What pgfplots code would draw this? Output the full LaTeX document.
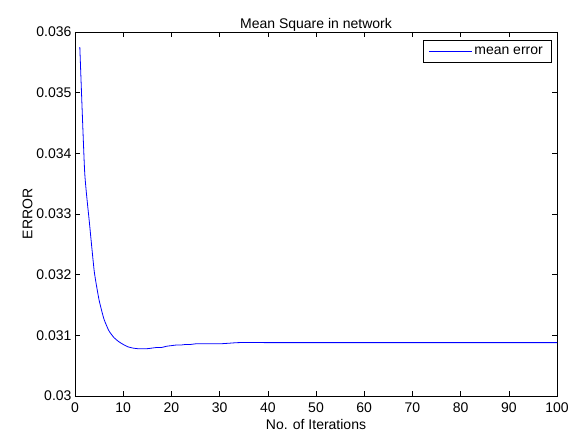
\documentclass[border=0pt]{standalone}
\usepackage{fontspec}
\setmainfont{Liberation Sans}
\usepackage{pgfplots}
\pgfplotsset{compat=1.18}

\begin{document}
\begin{tikzpicture}
\begin{axis}[
  scale only axis,
  width=482bp, height=364bp,
  xmin=0, xmax=100, ymin=0.03, ymax=0.036,
  xtick={0,10,...,100},
  ytick={0.030,0.031,0.032,0.033,0.034,0.035,0.036},
  yticklabels={0.03,0.031,0.032,0.033,0.034,0.035,0.036},
  scaled y ticks=false,
  tick align=inside, tick pos=both,
  major tick length=5bp,
  axis line style={line width=0.8bp},
  tick style={line width=0.6bp, black},
  font=\fontsize{14bp}{16bp}\selectfont,
  /pgf/number format/assume math mode=true,
  xticklabel style={yshift=-3bp},
  title={Mean Square in network},
  title style={yshift=-9bp},
  xlabel={No. of Iterations},
  ylabel={ERROR},
  ylabel style={yshift=-3bp},
  legend style={at={(1,1)}, anchor=north east, xshift=-6bp, yshift=-8bp,
    inner xsep=6bp, inner ysep=4.5bp,
    font=\fontsize{14bp}{16bp}\selectfont},
  legend cell align=left,
  legend image code/.code={\draw[#1] (0cm,0cm) -- (1.5cm,0cm);},
]
\addplot[color=blue, line width=0.8bp, smooth, tension=0.3] coordinates {
(1,0.03575) (2,0.03370) (3,0.03285) (4,0.03205) (5,0.03158) (6,0.03127)
(7,0.03108) (8,0.03097) (9,0.03090) (10,0.03085) (11,0.03081) (12,0.03079)
(13,0.03078) (14,0.03078) (15,0.03078) (16,0.03079) (17,0.03080) (18,0.03080)
(19,0.03082) (20,0.03083) (21,0.03084) (22,0.03084) (23,0.03085) (24,0.03085)
(25,0.03086) (26,0.03086) (28,0.03086) (30,0.03086) (32,0.03087) (34,0.03088)
(40,0.03088) (50,0.03088) (60,0.03088) (70,0.03088) (80,0.03088) (90,0.03088) (100,0.03088)
};
\addlegendentry{mean error}
\end{axis}
\path (current axis.south west) ++(-75bp,-40bp) coordinate (bl);
\path (current axis.north east) ++(19bp,32bp) coordinate (tr);
\useasboundingbox (bl) rectangle (tr);
\end{tikzpicture}
\end{document}
